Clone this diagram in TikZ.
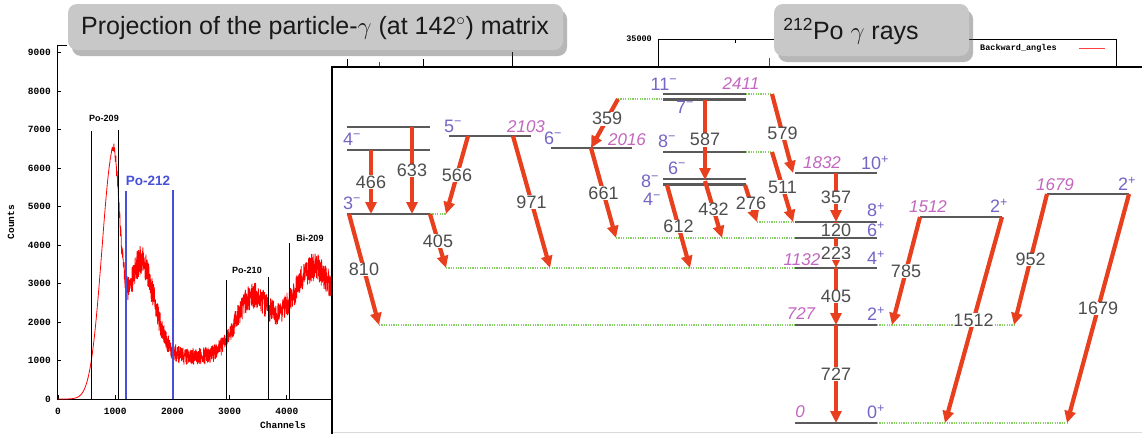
\documentclass[tikz,border=0pt]{standalone}
\usepackage{fontspec}
\setmainfont{Liberation Sans}
\newfontfamily\gnufont{Liberation Mono}
\usetikzlibrary{arrows.meta,shadows}
\definecolor{arr}{HTML}{E8401F}
\definecolor{spin}{HTML}{7466C4}
\definecolor{ener}{HTML}{C266C0}
\definecolor{num}{HTML}{4D4D4D}
\definecolor{lev}{HTML}{5A5A5A}
\definecolor{dots}{HTML}{86CF62}
\definecolor{poblue}{HTML}{4650D8}
\definecolor{titlebg}{HTML}{C8C8C8}
\newcommand\smi{\textsuperscript{\char"2212}}
\newcommand\spl{\textsuperscript{+}}
\begin{document}
\begin{tikzpicture}[x=1pt,y=-1pt,
  declare function={
    gs(\ch,\c,\w)=exp(-min(20,((\ch-\c)/\w)*((\ch-\c)/\w)));
    spec(\ch)=6000*gs(\ch,0.96,(\ch<0.96?0.28:0.17))+2700*gs(\ch,1.42,0.35)+1100/(1+exp(-max(-9,min(9,(\ch-1.3)/0.1))))+1500*gs(\ch,3.4,0.4)+2300*gs(\ch,4.5,0.6);
    noi(\ch)=rand*6.5*sqrt(spec(\ch))*min(1,max(0,(\ch-0.9)/0.35));
  },
  lvl/.style={draw=lev,line width=2.2pt},
  gam/.style={draw=arr,line width=4.2pt,-{Triangle[width=11pt,length=12pt]}},
  lbl/.style={fill=white,inner sep=0.6pt,text=num,font=\fontsize{18}{18}\selectfont},
  spn/.style={text=spin,inner sep=0pt,font=\fontsize{18}{18}\selectfont},
  ene/.style={text=ener,inner sep=0pt,font=\fontsize{17}{17}\selectfont\itshape},
  dl/.style={draw=dots,line width=1.1pt,dash pattern=on 1.2pt off 1.2pt},
  tk/.style={draw=black,line width=0.7pt},
  gnu/.style={font=\gnufont\bfseries\fontsize{9.5}{9.5}\selectfont,inner sep=0pt},
  plbl/.style={font=\bfseries\fontsize{9}{9}\selectfont,inner sep=0pt},
  tbox/.style={rounded corners=9pt,fill=titlebg,draw=none,
    drop shadow={shadow xshift=4pt,shadow yshift=-6pt,opacity=0.4,fill=black!70}},
  ttext/.style={inner sep=0pt,text=black!90,font=\fontsize{25}{25}\selectfont}
]
\useasboundingbox (0,0) rectangle (1142,434);
\fill[white] (0,0) rectangle (1142,434);

% ---------- left spectrum ----------
\draw[tk] (67,45) -- (57,45) -- (57,399) -- (332,399);
\foreach \k in {0,...,9} {
  \draw[tk] (57,{399-38.5*\k}) -- (61,{399-38.5*\k});
  \node[gnu,anchor=east] (yl\k) at (51,{399-38.5*\k}) {\pgfmathparse{int(1000*\k)}\pgfmathresult};
}
\foreach \k in {0,...,4} {
  \draw[tk] ({58+57.2*\k},399) -- ({58+57.2*\k},395);
  \node[gnu] (xl\k) at ({58+57.2*\k},411) {\pgfmathparse{int(1000*\k)}\pgfmathresult};
}
\node[gnu] (xlab) at (283,425) {Channels};
\node[gnu,rotate=90] (ylab) at (11,222) {Counts};
\pgfmathsetseed{4242}
\draw[red,line width=0.8pt,line join=round] plot[domain=0:4.85,samples=1400,variable=\ch]
  ({58+57*\ch},{399-0.0385*(spec(\ch)+noi(\ch))});
\draw[black,line width=0.8pt] (91,131) -- (91,399) (118,130) -- (118,399)
  (226,280) -- (226,399) (268,277) -- (268,399) (289,243) -- (289,399);
\draw[poblue,line width=2.2pt] (126,191) -- (126,399) (173,190) -- (173,399);
\node[plbl] (p209) at (104,118) {Po-209};
\node[plbl,text=poblue,font=\bfseries\fontsize{13.5}{13.5}\selectfont] (p212) at (148,181) {Po-212};
\node[plbl] (p210) at (247,270) {Po-210};
\node[plbl] (b209) at (310,238) {Bi-209};

% ---------- background gamma spectrum fragments ----------
\draw[tk,line width=0.6pt] (658,67) -- (658,39) -- (1116,39) -- (1116,67);
\draw[tk,line width=0.6pt] (347,59) -- (347,67) (423,59) -- (423,67) (512,52) -- (512,67) (735,39) -- (735,43);
\draw[red,line width=0.8pt] (379,62) -- (379,67) (769,58) -- (769,67);
\node[gnu,font=\gnufont\bfseries\fontsize{8.5}{8.5}\selectfont,anchor=east] (y35) at (652,39) {35000};
\node[gnu,font=\gnufont\bfseries\fontsize{8.5}{8.5}\selectfont,anchor=west] (leg) at (980,48) {Backward\_angles};
\draw[red!75,line width=1pt] (1079,48) -- (1105,48);

% ---------- level scheme frame ----------
\fill[white] (332,67) rectangle (1142,432);
\draw[black!15,line width=1pt] (332,432.5) -- (1142,432.5);
\draw[black,line width=2pt] (332,434) -- (332,67) -- (1142,67);

% dotted feeding lines
\draw[dl] (618,99) -- (663,99);
\draw[dl] (746,94) -- (772,94);
\draw[dl] (746,152) -- (772,152);
\draw[dl] (430,214) -- (446,214);
\draw[dl] (446,268) -- (795,268);
\draw[dl] (616,238) -- (795,238);
\draw[dl] (757,222) -- (795,222);
\draw[dl] (379,325) -- (795,325);
\draw[dl] (877,325) -- (1014,325);
\draw[dl] (877,423) -- (1067,423);

% levels
\draw[lvl] (347,127) -- (430,127);
\draw[lvl] (347,150) -- (430,150);
\draw[lvl] (347,214) -- (430,214);
\draw[lvl] (449,136) -- (531,136);
\draw[lvl] (551,148) -- (632,148);
\draw[lvl] (663,94) -- (746,94);
\draw[lvl] (663,99.5) -- (746,99.5);
\draw[lvl] (663,152) -- (746,152);
\draw[lvl] (663,179) -- (746,179);
\draw[lvl] (663,184.5) -- (746,184.5);
\draw[lvl] (795,173) -- (877,173);
\draw[lvl] (795,222) -- (877,222);
\draw[lvl] (795,238) -- (877,238);
\draw[lvl] (795,268) -- (877,268);
\draw[lvl] (795,325) -- (877,325);
\draw[lvl] (795,423) -- (877,423);
\draw[lvl] (920,217) -- (1002,217);
\draw[lvl] (1047,194) -- (1129,194);

% gamma transitions
\draw[gam] (371,150) -- (371,214) node[midway,lbl] (g466) {466};
\draw[gam] (412,127) -- (412,214) node[midway,lbl] (g633) {633};
\draw[gam] (468,136) -- (446,214) node[midway,lbl] (g566) {566};
\draw[gam] (513,136) -- (550,268) node[midway,lbl] (g971) {971};
\draw[gam] (430,214) -- (446,268) node[midway,lbl] (g405a) {405};
\draw[gam] (349,214) -- (379,325) node[midway,lbl] (g810) {810};
\draw[gam] (618,99) -- (591,148) node[pos=0.4,lbl] (g359) {359};
\draw[gam] (591,148) -- (616,238) node[midway,lbl] (g661) {661};
\draw[gam] (705,99.5) -- (705,180) node[midway,lbl] (g587) {587};
\draw[gam] (667,185) -- (690,268) node[midway,lbl] (g612) {612};
\draw[gam] (705,181) -- (722,238) node[midway,lbl] (g432) {432};
\draw[gam] (745,185) -- (757,222) node[midway,lbl] (g276) {276};
\draw[gam] (772,152) -- (793,222) node[midway,lbl] (g511) {511};
\draw[gam] (772,94) -- (793,173) node[midway,lbl] (g579) {579};
\draw[gam] (836,173) -- (836,222) node[midway,lbl] (g357) {357};
\draw[gam] (836,222) -- (836,238) node[midway,lbl] (g120) {120};
\draw[gam] (836,238) -- (836,268) node[midway,lbl] (g223) {223};
\draw[gam] (836,268) -- (836,325) node[midway,lbl] (g405b) {405};
\draw[gam] (836,325) -- (836,423) node[midway,lbl] (g727) {727};
\draw[gam] (920,217) -- (892,325) node[midway,lbl] (g785) {785};
\draw[gam] (1002,217) -- (945,423) node[midway,lbl] (g1512) {1512};
\draw[gam] (1047,194) -- (1014,325) node[midway,lbl] (g952) {952};
\draw[gam] (1129,194) -- (1067,423) node[midway,lbl] (g1679) {1679};

% spin labels
\node[spn] (s4a) at (352,139) {4\smi};
\node[spn] (s3) at (352,203) {3\smi};
\node[spn] (s5) at (453,126) {5\smi};
\node[spn] (s6a) at (553,138) {6\smi};
\node[spn] (s11) at (664,84) {11\smi};
\node[spn] (s7) at (685,107) {7\smi};
\node[spn] (s8a) at (667,141) {8\smi};
\node[spn] (s6b) at (677,168) {6\smi};
\node[spn] (s8b) at (650,181) {8\smi};
\node[spn] (s4b) at (652,199.5) {4\smi};
\node[spn] (s10) at (875,163) {10\spl};
\node[spn] (s8p) at (876,210) {8\spl};
\node[spn] (s6p) at (876,229.5) {6\spl};
\node[spn] (s4p) at (876,258) {4\spl};
\node[spn] (s2p) at (876,314) {2\spl};
\node[spn] (s0p) at (876,412) {0\spl};
\node[spn] (s2q) at (999,206) {2\spl};
\node[spn] (s2r) at (1127,184) {2\spl};

% energy labels
\node[ene] (e2103) at (526,127) {2103};
\node[ene] (e2016) at (627,140) {2016};
\node[ene] (e2411) at (741,84) {2411};
\node[ene] (e1832) at (822,163) {1832};
\node[ene] (e1132) at (802,260) {1132};
\node[ene] (e727) at (801,314) {727};
\node[ene] (e0) at (800,412) {0};
\node[ene] (e1512) at (928,207) {1512};
\node[ene] (e1679) at (1055,185) {1679};

% ---------- title boxes ----------
\node[tbox,minimum width=495pt,minimum height=46pt] (t1) at (315.5,27) {};
\node[ttext] (t1t) at (315,28) {Projection of the particle-$\gamma$ (at 142$^\circ$) matrix};
\node[tbox,minimum width=195pt,minimum height=52pt] (t2) at (871.5,30) {};
\node[ttext] (t2t) at (851,31) {\textsuperscript{212}Po $\gamma$ rays};
\end{tikzpicture}
\end{document}
